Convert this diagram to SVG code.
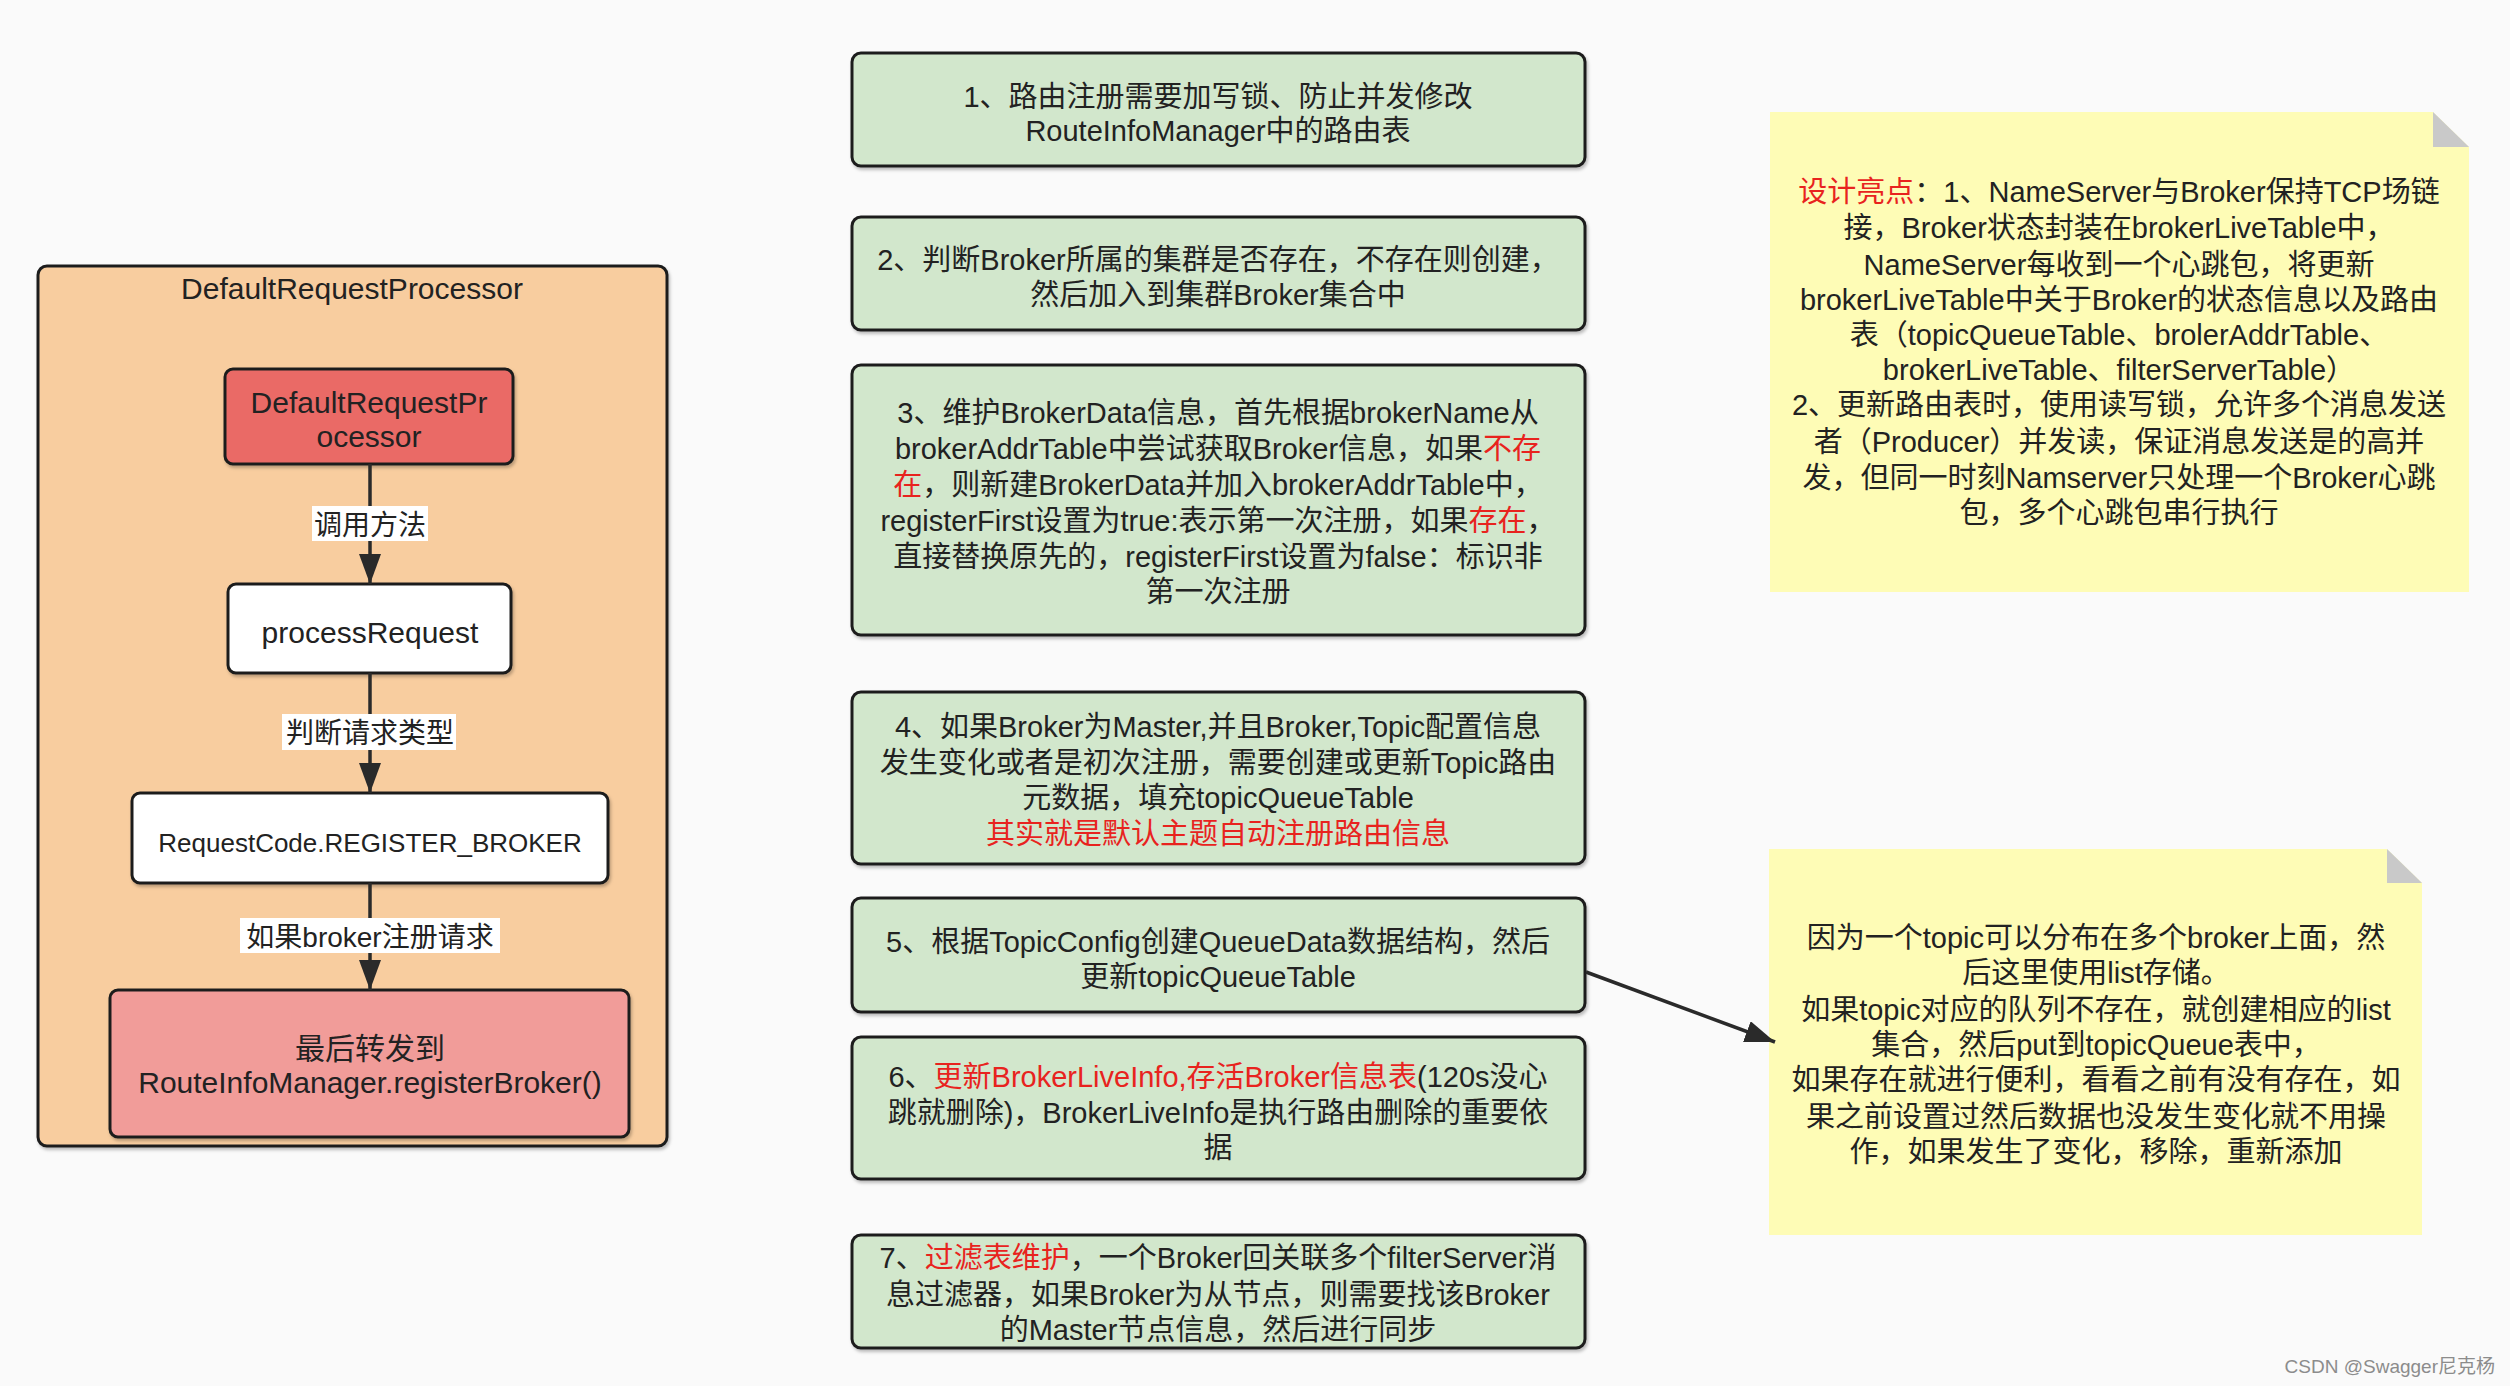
<svg xmlns="http://www.w3.org/2000/svg" width="2510" height="1386" viewBox="0 0 2510 1386">
<defs>
<style>
text{font-family:"Liberation Sans","Noto Sans CJK SC",sans-serif;fill:#222;}
.t29{font-size:29px;text-anchor:middle;}
.t30{font-size:30px;text-anchor:middle;}
.lbl{font-size:28px;text-anchor:middle;}
.red{fill:#e8231e;}
.box{stroke:#1e1e1e;stroke-width:3;filter:url(#sh);}
.green{fill:#d2e7cc;}
.note{fill:#fefcb6;}
.fold{fill:#c9c9c9;}
.edge{stroke:#2a2a2a;stroke-width:3.5;fill:none;marker-end:url(#ah);}
.lblbg{fill:#ffffff;}
</style>
<marker id="ah" markerUnits="userSpaceOnUse" markerWidth="31" markerHeight="22" refX="30" refY="11" orient="auto">
<path d="M0,0 L30,11 L0,22 z" fill="#2a2a2a"/>
</marker>
<filter id="sh" x="-5%" y="-5%" width="110%" height="115%">
<feDropShadow dx="1.5" dy="2.5" stdDeviation="1.5" flood-color="#000" flood-opacity="0.25"/>
</filter>
</defs>
<rect x="0" y="0" width="2510" height="1386" fill="#fafafa"/>

<g id="container-DefaultRequestProcessor">
<rect class="box" x="38" y="266" width="629" height="880" rx="9" fill="#f8cd9f"/>
<text class="t30" x="352" y="299">DefaultRequestProcessor</text>
</g>

<g id="node-DefaultRequestProcessor">
<rect class="box" x="225" y="369" width="288" height="95" rx="8" fill="#ea6b66"/>
<text class="t30" x="369" y="413">DefaultRequestPr</text>
<text class="t30" x="369" y="447">ocessor</text>
</g>

<g id="node-processRequest">
<rect class="box" x="228" y="584" width="283" height="89" rx="8" fill="#ffffff"/>
<text class="t30" x="370" y="643">processRequest</text>
</g>

<g id="node-REGISTER_BROKER">
<rect class="box" x="132" y="793" width="476" height="90" rx="8" fill="#ffffff"/>
<text x="370" y="852" style="font-size:26px;text-anchor:middle">RequestCode.REGISTER_BROKER</text>
</g>

<g id="node-registerBroker">
<rect class="box" x="110" y="990" width="519" height="147" rx="8" fill="#f19c99"/>
<text class="t30" x="370" y="1059">最后转发到</text>
<text class="t30" x="370" y="1093">RouteInfoManager.registerBroker()</text>
</g>

<g id="step1">
<rect class="box green" x="852" y="53" width="733" height="113" rx="9"/>
<text class="t29" x="1218" y="107">1、路由注册需要加写锁、防止并发修改</text>
<text class="t29" x="1218" y="141">RouteInfoManager中的路由表</text>
</g>

<g id="step2">
<rect class="box green" x="852" y="217" width="733" height="113" rx="9"/>
<text class="t29" x="1218" y="270">2、判断Broker所属的集群是否存在，不存在则创建，</text>
<text class="t29" x="1218" y="305">然后加入到集群Broker集合中</text>
</g>

<g id="step3">
<rect class="box green" x="852" y="365" width="733" height="270" rx="9"/>
<text class="t29" x="1218" y="423">3、维护BrokerData信息，首先根据brokerName从</text>
<text class="t29" x="1218" y="459">brokerAddrTable中尝试获取Broker信息，如果<tspan class="red">不存</tspan></text>
<text class="t29" x="1218" y="495"><tspan class="red">在</tspan>，则新建BrokerData并加入brokerAddrTable中，</text>
<text class="t29" x="1218" y="531">registerFirst设置为true:表示第一次注册，如果<tspan class="red">存在</tspan>，</text>
<text class="t29" x="1218" y="567">直接替换原先的，registerFirst设置为false：标识非</text>
<text class="t29" x="1218" y="602">第一次注册</text>
</g>

<g id="step4">
<rect class="box green" x="852" y="692" width="733" height="172" rx="9"/>
<text class="t29" x="1218" y="737">4、如果Broker为Master,并且Broker,Topic配置信息</text>
<text class="t29" x="1218" y="773">发生变化或者是初次注册，需要创建或更新Topic路由</text>
<text class="t29" x="1218" y="808">元数据，填充topicQueueTable</text>
<text class="t29 red" x="1218" y="844">其实就是默认主题自动注册路由信息</text>
</g>

<g id="step5">
<rect class="box green" x="852" y="898" width="733" height="114" rx="9"/>
<text class="t29" x="1218" y="952">5、根据TopicConfig创建QueueData数据结构，然后</text>
<text class="t29" x="1218" y="987">更新topicQueueTable</text>
</g>

<g id="step6">
<rect class="box green" x="852" y="1037" width="733" height="142" rx="9"/>
<text class="t29" x="1218" y="1087">6、<tspan class="red">更新BrokerLiveInfo,存活Broker信息表</tspan>(120s没心</text>
<text class="t29" x="1218" y="1123">跳就删除)，BrokerLiveInfo是执行路由删除的重要依</text>
<text class="t29" x="1218" y="1158">据</text>
</g>

<g id="step7">
<rect class="box green" x="852" y="1235" width="733" height="113" rx="9"/>
<text class="t29" x="1218" y="1268">7、<tspan class="red">过滤表维护</tspan>，一个Broker回关联多个filterServer消</text>
<text class="t29" x="1218" y="1305">息过滤器，如果Broker为从节点，则需要找该Broker</text>
<text class="t29" x="1218" y="1340">的Master节点信息，然后进行同步</text>
</g>

<g id="note-design">
<polygon class="note" points="1770,112 2433,112 2469,147 2469,592 1770,592"/>
<polygon class="fold" points="2433,112 2433,147 2469,147"/>
<text class="t29" x="2119" y="202"><tspan class="red">设计亮点</tspan>：1、NameServer与Broker保持TCP场链</text>
<text class="t29" x="2119" y="238">接，Broker状态封装在brokerLiveTable中，</text>
<text class="t29" x="2119" y="275">NameServer每收到一个心跳包，将更新</text>
<text class="t29" x="2119" y="310">brokerLiveTable中关于Broker的状态信息以及路由</text>
<text class="t29" x="2119" y="345">表（topicQueueTable、brolerAddrTable、</text>
<text class="t29" x="2119" y="380">brokerLiveTable、filterServerTable）</text>
<text class="t29" x="2119" y="415">2、更新路由表时，使用读写锁，允许多个消息发送</text>
<text class="t29" x="2119" y="452">者（Producer）并发读，保证消息发送是的高并</text>
<text class="t29" x="2119" y="488">发，但同一时刻Namserver只处理一个Broker心跳</text>
<text class="t29" x="2119" y="523">包，多个心跳包串行执行</text>
</g>

<g id="note-topicQueue">
<polygon class="note" points="1769,849 2387,849 2422,883 2422,1235 1769,1235"/>
<polygon class="fold" points="2387,849 2387,883 2422,883"/>
<text class="t29" x="2096" y="948">因为一个topic可以分布在多个broker上面，然</text>
<text class="t29" x="2096" y="983">后这里使用list存储。</text>
<text class="t29" x="2096" y="1020">如果topic对应的队列不存在，就创建相应的list</text>
<text class="t29" x="2096" y="1055">集合，然后put到topicQueue表中，</text>
<text class="t29" x="2096" y="1090">如果存在就进行便利，看看之前有没有存在，如</text>
<text class="t29" x="2096" y="1127">果之前设置过然后数据也没发生变化就不用操</text>
<text class="t29" x="2096" y="1162">作，如果发生了变化，移除，重新添加</text>
</g>

<g id="connectors">
<line class="edge" x1="370" y1="464" x2="370" y2="584"/>
<rect class="lblbg" x="312" y="506" width="116" height="35"/>
<text class="lbl" x="370" y="535">调用方法</text>
<line class="edge" x1="370" y1="673" x2="370" y2="793"/>
<rect class="lblbg" x="282" y="714" width="174" height="36"/>
<text class="lbl" x="370" y="743">判断请求类型</text>
<line class="edge" x1="370" y1="883" x2="370" y2="990"/>
<rect class="lblbg" x="240" y="918" width="260" height="35"/>
<text class="lbl" x="370" y="947">如果broker注册请求</text>
<line class="edge" x1="1586" y1="972" x2="1775" y2="1042"/>
</g>

<text x="2495" y="1373" style="font-size:19px;text-anchor:end;fill:#8c8c8c">CSDN @Swagger尼克杨</text>
</svg>
